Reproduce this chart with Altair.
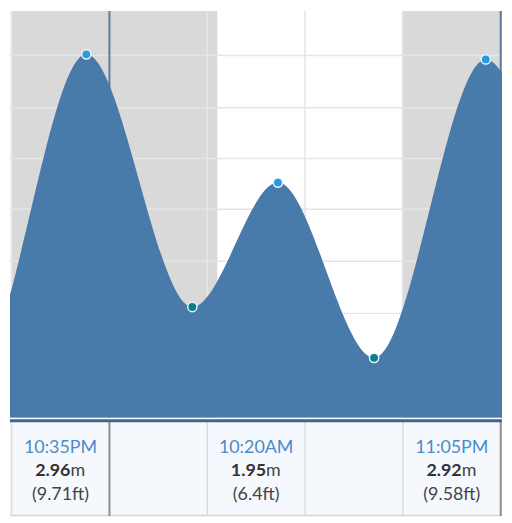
import altair as alt
import pandas as pd
import math

# ---------------- data ----------------
# Tide extremes: day offset (0 = first evening, 1 = next day, 2 = day after)
TIDE_DAY = [0, 0, 0, 1, 1, 1, 1, 2, 2]
TIDE_CLOCK = ["9:40AM", "3:47PM", "10:35PM", "5:05AM", "10:20AM", "4:14PM", "11:05PM", "5:40AM", "11:40AM"]
TIDE_M = [2.00, 0.50, 2.96, 0.97, 1.95, 0.57, 2.92, 1.20, 2.00]
TIDE_KIND = ["high", "low", "high", "low", "high", "low", "high", "low", "high"]

# High-tide labels shown in the strip under the chart
LABEL_DAY = [0, 1, 1]
LABEL_CLOCK = ["10:35PM", "10:20AM", "11:05PM"]
LABEL_M = ["2.96", "1.95", "2.92"]
LABEL_FT = ["9.71", "6.4", "9.58"]

# Night periods (sunset -> sunrise)
NIGHT_START_DAY = [0, 1]
NIGHT_START = ["5:57PM", "5:56PM"]
NIGHT_END_DAY = [1, 2]
NIGHT_END = ["6:37AM", "6:37AM"]

# Visible window, grid
VIEW_START = (0, "5:54PM")
PX_PER_HOUR = 16.435
GRID_HOURS = [-6, 6, 12, 18]
MIDNIGHT_HOURS = [0, 24]
GRID_M = [0.51, 0.92, 1.33, 1.74, 2.14, 2.54, 2.95]
Y_RANGE_M = [0.098, 3.301]

# layout constants
W, H_MAIN, H_STRIP, STRIP_FULL = 496, 410, 96, 96
# strip rows as fraction of the full strip height (top = 0)
ROW_TIME, ROW_VALUE, ROW_FT, ROW_BOTTOM = 0.344, 0.578, 0.833, 0.995
FONT = "Lato"


def to_hours(day, clock):
    t, ampm = clock[:-2], clock[-2:]
    hh, mm = [int(v) for v in t.split(":")]
    hh = hh % 12 + (12 if ampm == "PM" else 0)
    return (day - 1) * 24 + hh + mm / 60.0


X0 = to_hours(*VIEW_START)
X1 = X0 + W / PX_PER_HOUR

tide_df = pd.DataFrame({
    "h": [to_hours(d, c) for d, c in zip(TIDE_DAY, TIDE_CLOCK)],
    "m": TIDE_M,
    "kind": TIDE_KIND,
})
vis_df = tide_df[(tide_df.h >= X0) & (tide_df.h <= X1)]

night_df = pd.DataFrame({
    "start": [max(X0, to_hours(d, c)) for d, c in zip(NIGHT_START_DAY, NIGHT_START)],
    "end": [min(X1, to_hours(d, c)) for d, c in zip(NIGHT_END_DAY, NIGHT_END)],
})
vgrid_df = pd.DataFrame({"h": GRID_HOURS})
mid_df = pd.DataFrame({"h": MIDNIGHT_HOURS})
hgrid_df = pd.DataFrame({"m": GRID_M})

lab_h = [to_hours(d, c) for d, c in zip(LABEL_DAY, LABEL_CLOCK)]
label_df = pd.DataFrame({
    "slot": [math.floor(h / 6) * 6 + 3 for h in lab_h],
    "clock": LABEL_CLOCK,
    "num": LABEL_M,
    "unit": ["m"] * len(LABEL_M),
    "ft": ["(" + f + "ft)" for f in LABEL_FT],
})
one = pd.DataFrame({"k": [0]})

XS = alt.Scale(domain=[X0, X1], nice=False, zero=False)
YS = alt.Scale(domain=Y_RANGE_M, nice=False, zero=False)
BY = alt.Scale(domain=[0, H_STRIP / STRIP_FULL], reverse=True, nice=False, zero=False)


def bx(field):
    return alt.X(field, type="quantitative", scale=XS, axis=None)


# ---------------- main tide panel ----------------
night = alt.Chart(night_df).mark_rect(color="#d9d9d9", clip=True).encode(
    x=bx("start"), x2="end:Q")
hgrid = alt.Chart(hgrid_df).mark_rule(color="#e5e5e5", strokeWidth=1.5).encode(
    y=alt.Y("m:Q", scale=YS, axis=None))
vgrid = alt.Chart(vgrid_df).mark_rule(color="#e5e5e5", strokeWidth=1.5).encode(x=bx("h"))
mid = alt.Chart(mid_df).mark_rule(color="#5d7c97", strokeWidth=2, clip=True).encode(x=bx("h"))
area = alt.Chart(tide_df).mark_area(interpolate="monotone", color="#487aaa", clip=True, opacity=1).encode(
    x=bx("h"),
    y=alt.Y("m:Q", scale=YS, axis=None),
    y2=alt.datum(Y_RANGE_M[0]),
)
pts = alt.Chart(vis_df).mark_circle(size=88, stroke="#eaf4fb", strokeWidth=1.5, opacity=1).encode(
    x=bx("h"),
    y=alt.Y("m:Q", scale=YS, axis=None),
    color=alt.Color("kind:N", scale=alt.Scale(domain=["high", "low"], range=["#2a9be2", "#05808c"]), legend=None),
)
main = alt.layer(night, hgrid, vgrid, mid, area, pts).properties(width=W, height=H_MAIN)


# ---------------- label strip ----------------
def by(v):
    return alt.YDatum(v, type="quantitative", scale=BY, axis=None)


bgrid = alt.Chart(vgrid_df).mark_rule(color="#dcdcdc", strokeWidth=1.5).encode(x=bx("h"))
bmid = alt.Chart(mid_df).mark_rule(color="#8e8e8e", strokeWidth=2, clip=True).encode(x=bx("h"))
sep = alt.Chart(one).mark_rule(color="#3c6590", strokeWidth=3).encode(y=by(0))
bottom = alt.Chart(one).mark_rule(color="#d6d6d6", strokeWidth=1.5).encode(y=by(ROW_BOTTOM))
t_time = alt.Chart(label_df).mark_text(font=FONT, fontSize=18, color="#4b8bc8", baseline="alphabetic").encode(
    x=bx("slot"), y=by(ROW_TIME), text="clock:N")
t_num = alt.Chart(label_df).mark_text(font=FONT, fontSize=18, fontWeight="bold", color="#333333",
                                      baseline="alphabetic", align="right", dx=10).encode(
    x=bx("slot"), y=by(ROW_VALUE), text="num:N")
t_unit = alt.Chart(label_df).mark_text(font=FONT, fontSize=18, color="#444444",
                                       baseline="alphabetic", align="left", dx=10).encode(
    x=bx("slot"), y=by(ROW_VALUE), text="unit:N")
t_ft = alt.Chart(label_df).mark_text(font=FONT, fontSize=18, color="#444444", baseline="alphabetic").encode(
    x=bx("slot"), y=by(ROW_FT), text="ft:N")
band = alt.layer(bottom, bgrid, bmid, sep, t_time, t_num, t_unit, t_ft).properties(
    width=W, height=H_STRIP, view=alt.ViewBackground(fill="#f5f9fd", stroke=None))

chart = alt.vconcat(main, band, spacing=0).properties(padding=0, background="white").configure_view(stroke=None)

chart.save("out.html", embed_options={"renderer": "svg", "actions": False})
